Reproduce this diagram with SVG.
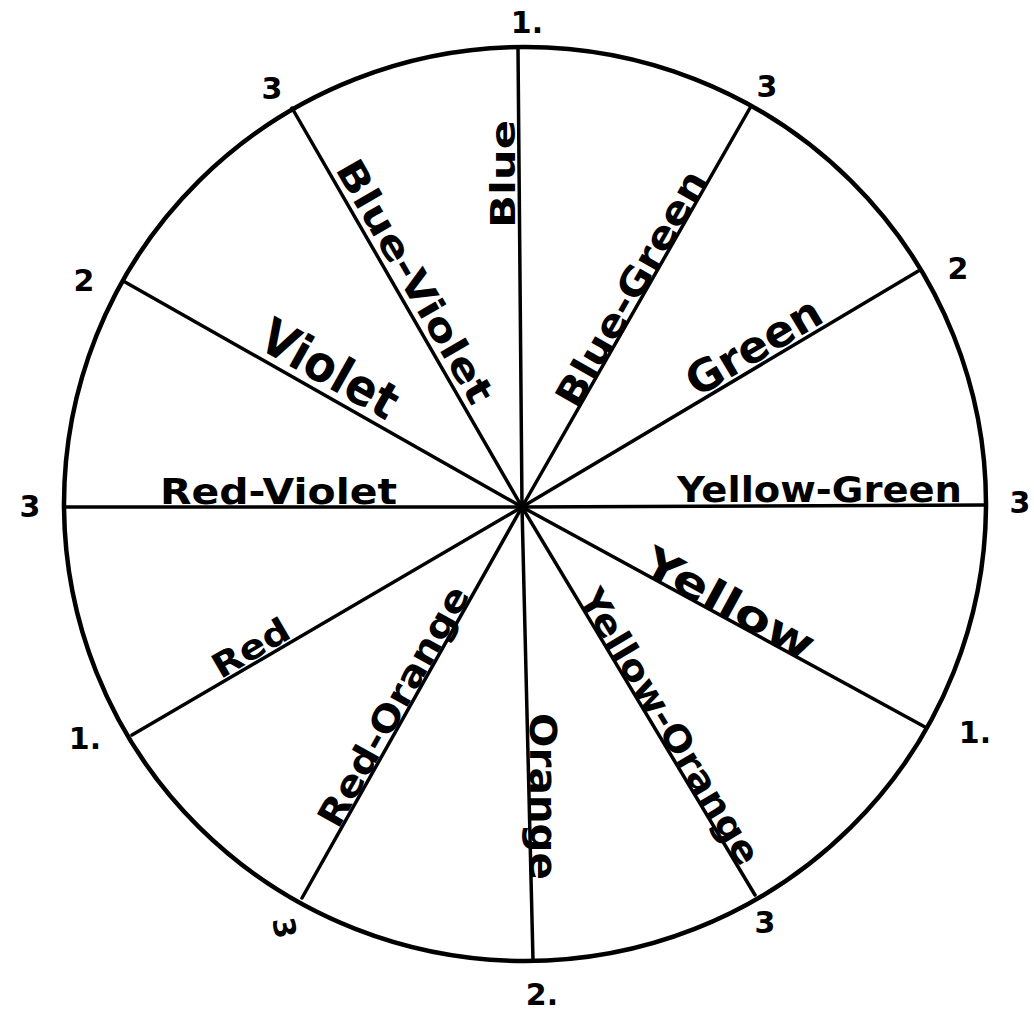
<svg xmlns="http://www.w3.org/2000/svg" width="1034" height="1011" viewBox="0 0 1034 1011">
<style>
.rim{fill:none;stroke:#000;stroke-width:4.5}
.ln{stroke:#000;stroke-width:3.5;stroke-linecap:round}
.lbl{font-family:"DejaVu Sans","Liberation Sans",sans-serif;font-weight:bold;fill:#000}
.num{font-family:"DejaVu Sans","Liberation Sans",sans-serif;font-weight:bold;font-size:30px;fill:#000;text-anchor:middle}
</style>
<rect width="1034" height="1011" fill="#fff"/>
<g id="wheel">
<ellipse class="rim" cx="525" cy="504" rx="461" ry="457"/>
</g>
<g id="connectors">
<line class="ln" x1="522" y1="507" x2="518" y2="48"/>
<line class="ln" x1="522" y1="507" x2="750" y2="108"/>
<line class="ln" x1="522" y1="507" x2="920" y2="270"/>
<line class="ln" x1="522" y1="507" x2="986" y2="505"/>
<line class="ln" x1="522" y1="507" x2="925" y2="727"/>
<line class="ln" x1="522" y1="507" x2="755" y2="895"/>
<line class="ln" x1="522" y1="507" x2="533" y2="960"/>
<line class="ln" x1="522" y1="507" x2="302" y2="898"/>
<line class="ln" x1="522" y1="507" x2="132" y2="735"/>
<line class="ln" x1="522" y1="507" x2="65" y2="507"/>
<line class="ln" x1="522" y1="507" x2="125" y2="282"/>
<line class="ln" x1="522" y1="507" x2="292" y2="108"/>
<circle cx="522" cy="507" r="6" fill="#000"/>
</g>
<g id="label-blue"><text class="lbl" font-size="34" transform="translate(515,228) rotate(-90)" textLength="108" lengthAdjust="spacingAndGlyphs">Blue</text></g>
<g id="label-blue-violet"><text class="lbl" font-size="38" transform="translate(333,170) rotate(60)" y="-2" textLength="275" lengthAdjust="spacingAndGlyphs">Blue-Violet</text></g>
<g id="label-blue-green"><text class="lbl" font-size="38" transform="translate(577,410) rotate(-60.3)" textLength="265" lengthAdjust="spacingAndGlyphs">Blue-Green</text></g>
<g id="label-green"><text class="lbl" font-size="44" transform="translate(697,398) rotate(-30.8)" textLength="150" lengthAdjust="spacingAndGlyphs">Green</text></g>
<g id="label-yellow-green"><text class="lbl" font-size="36" x="677" y="502" textLength="285" lengthAdjust="spacingAndGlyphs">Yellow-Green</text></g>
<g id="label-red-violet"><text class="lbl" font-size="36" x="160" y="504" textLength="237" lengthAdjust="spacingAndGlyphs">Red-Violet</text></g>
<g id="label-violet"><text class="lbl" font-size="50" transform="translate(252,354) rotate(29.5)" y="-8" textLength="150" lengthAdjust="spacingAndGlyphs">Violet</text></g>
<g id="label-red"><text class="lbl" font-size="34" transform="translate(222,682) rotate(-30.3)" y="-3" textLength="84" lengthAdjust="spacingAndGlyphs">Red</text></g>
<g id="label-red-orange"><text class="lbl" font-size="36" transform="translate(338,830) rotate(-60.6)" textLength="270" lengthAdjust="spacingAndGlyphs">Red-Orange</text></g>
<g id="label-orange"><text class="lbl" font-size="38" transform="translate(530,713) rotate(90)" textLength="167" lengthAdjust="spacingAndGlyphs">Orange</text></g>
<g id="label-yellow"><text class="lbl" font-size="42" transform="translate(640,571) rotate(28.6)" textLength="188" lengthAdjust="spacingAndGlyphs">Yellow</text></g>
<g id="label-yellow-orange"><text class="lbl" font-size="36" transform="translate(578,598) rotate(59)" textLength="315" lengthAdjust="spacingAndGlyphs">Yellow-Orange</text></g>
<g id="numbers">
<text class="num" x="527" y="33">1.</text>
<text class="num" x="767" y="97">3</text>
<text class="num" x="958" y="279">2</text>
<text class="num" x="1020" y="513">3</text>
<text class="num" x="975" y="743">1.</text>
<text class="num" x="765" y="933">3</text>
<text class="num" x="542" y="1005">2.</text>
<text class="num" transform="translate(284,928) rotate(80)" y="10">3</text>
<text class="num" x="85" y="749">1.</text>
<text class="num" x="30" y="517">3</text>
<text class="num" x="84" y="291">2</text>
<text class="num" x="272" y="99">3</text>
</g>
</svg>
